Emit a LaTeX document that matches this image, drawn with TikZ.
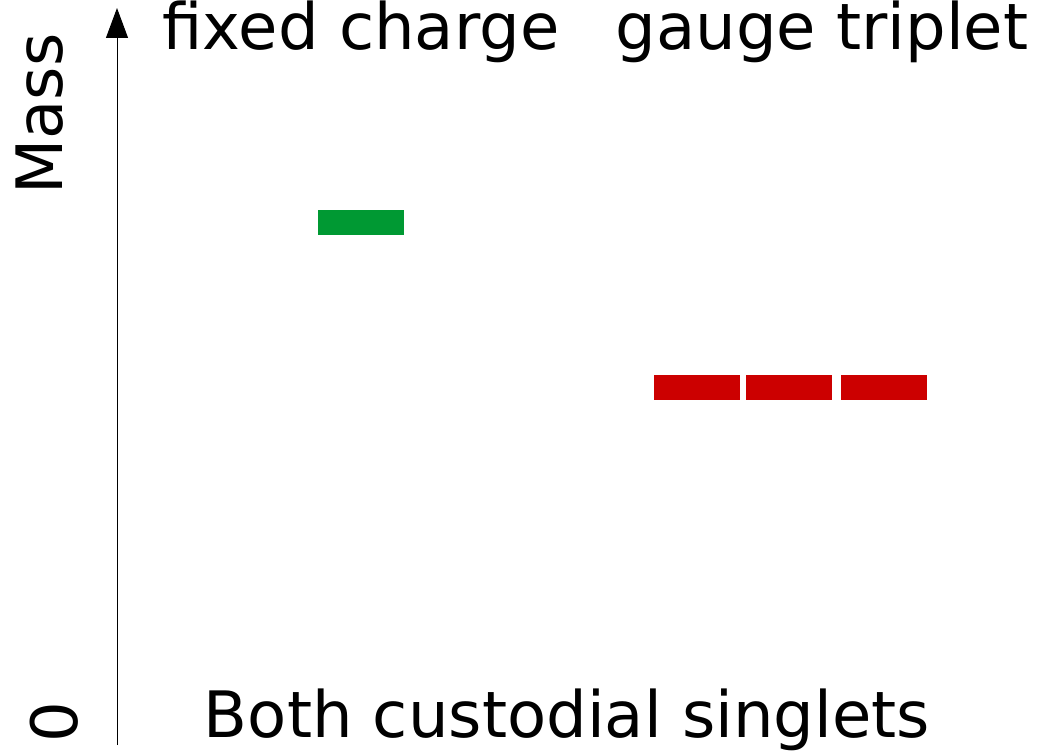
\documentclass[tikz,border=0pt]{standalone}
\usepackage{fontspec}
\setmainfont{DejaVu Sans}
\usetikzlibrary{arrows.meta}
\definecolor{lvgreen}{RGB}{0,153,51}
\definecolor{lvred}{RGB}{204,0,0}
\tikzset{
  lbl/.style={font=\fontsize{64}{70}\selectfont, inner sep=0pt},
  level/.style={minimum width=86pt, minimum height=25pt, inner sep=0pt, draw=none},
  axis/.style={line width=1pt, -{Triangle[length=30pt,width=22pt]}}
}
\begin{document}
\begin{tikzpicture}[x=1pt,y=-1pt]
\useasboundingbox (0,0) rectangle (1037,752);
\coordinate (base) at (117,745);
\coordinate (top) at (117,8);
\draw[axis] (base) -- (top);
\node[lbl, anchor=base] (fc) at (361,50) {fixed charge};
\node[lbl, anchor=base] (gt) at (822,50) {gauge triplet};
\node[lbl, rotate=90] (mass) at (40,114) {Mass};
\node[lbl, rotate=90] (zero) at (54,722) {0};
\node[lbl, anchor=base] (both) at (567,737) {Both custodial singlets};
\node[level, fill=lvgreen] (g) at (361,222.5) {};
\node[level, fill=lvred] (r1) at (696.5,387.5) {};
\node[level, fill=lvred] (r2) at (788.5,387.5) {};
\node[level, fill=lvred] (r3) at (884,387.5) {};
\end{tikzpicture}
\end{document}
